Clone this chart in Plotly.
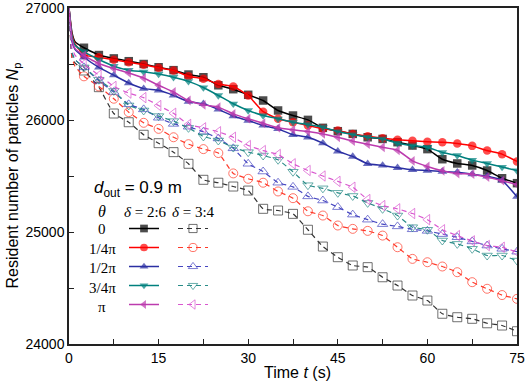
import plotly.graph_objects as go

# ---------------- data ----------------
t = [0, 0.5, 1, 2.5, 5, 7.5, 10, 12.5, 15, 17.5, 20, 22.5, 25, 27.5, 30, 32.5, 35,
     37.5, 40, 42.5, 45, 47.5, 50, 52.5, 55, 57.5, 60, 62.5, 65, 67.5, 70, 72.5, 75]

theta_labels = ["0", "1/4π", "1/2π", "3/4π", "π"]
x_ticks = [0, 15, 30, 45, 60, 75]
y_ticks = [24000, 25000, 26000, 27000]

# delta = 2:6 (solid)
s26_0 = [27000, 26780, 26700, 26645, 26580, 26550, 26525, 26500, 26471, 26445, 26406, 26382, 26310,
         26275, 26225, 26174, 26085, 26040, 26001, 25930, 25900, 25876, 25846,
         25831, 25802, 25772, 25740, 25650, 25612, 25594, 25549, 25480, 25436]
s26_q1 = [27000, 26760, 26680, 26580, 26561, 26538, 26516, 26493, 26466, 26442, 26391, 26368, 26322,
          26299, 26219, 26074, 26011, 25980, 25951, 25921, 25906, 25876, 25855,
          25837, 25823, 25814, 25806, 25802, 25790, 25769, 25727, 25695, 25630]
s26_q2 = [27000, 26700, 26630, 26560, 26470, 26400, 26330, 26280, 26265, 26220, 26165, 26145, 26095,
          26034, 25995, 25951, 25921, 25868, 25846, 25793, 25721, 25674, 25609,
          25594, 25573, 25555, 25549, 25540, 25534, 25516, 25497, 25460, 25315]
s26_q3 = [27000, 26750, 26670, 26610, 26540, 26480, 26445, 26430, 26410, 26382, 26345, 26290, 26219,
          26145, 26085, 26040, 26011, 25980, 25960, 25936, 25897, 25870, 25846,
          25832, 25793, 25772, 25757, 25710, 25683, 25642, 25612, 25580, 25549]
s26_pi = [27000, 26720, 26640, 26578, 26505, 26460, 26420, 26375, 26310, 26250, 26174, 26135, 26115,
          26055, 26011, 25971, 25930, 25912, 25897, 25876, 25846, 25811, 25784,
          25757, 25730, 25635, 25585, 25546, 25522, 25516, 25490, 25458, 25423]

# delta = 3:4 (dashed)
d34_0 = [27000, 26560, 26510, 26442, 26293, 26058, 25980, 25868, 25793, 25713, 25609, 25466, 25440,
         25406, 25370, 25207, 25192, 25162, 25020, 24870, 24775, 24701, 24686,
         24596, 24522, 24433, 24388, 24270, 24239, 24225, 24185, 24165, 24114]
d34_q1 = [27000, 26560, 26480, 26390, 26300, 26190, 26070, 25975, 25921, 25846, 25784, 25740, 25705,
          25523, 25475, 25440, 25362, 25302, 25185, 25147, 25058, 25028, 25010,
          24968, 24864, 24760, 24730, 24692, 24641, 24552, 24493, 24437, 24403]
d34_q2 = [27000, 26600, 26540, 26470, 26350, 26250, 26140, 26095, 26020, 25965, 25940, 25895, 25835,
          25747, 25609, 25540, 25440, 25403, 25318, 25281, 25222, 25155, 25110,
          25070, 25050, 25024, 25010, 24981, 24953, 24916, 24879, 24850, 24824]
d34_q3 = [27000, 26600, 26540, 26470, 26360, 26260, 26130, 26085, 26035, 25990, 25930, 25853, 25817,
          25754, 25713, 25683, 25645, 25538, 25418, 25390, 25350, 25322, 25260,
          25207, 25147, 25043, 25020, 24924, 24894, 24850, 24790, 24790, 24745]
d34_pi = [27000, 26640, 26580, 26500, 26400, 26300, 26240, 26200, 26129, 26060, 25960, 25930, 25895,
          25846, 25772, 25727, 25692, 25609, 25549, 25500, 25452, 25400, 25290,
          25236, 25207, 25165, 25110, 25020, 24968, 24921, 24879, 24864, 24820]

# ---------------- styles ----------------
colors = ["#000000", "#FF0000", "#2B2FA3", "#00807E", "#BC3BAE"]
dcolors = ["#333333", "#FF3A2A", "#4646C0", "#2A8C88", "#D957CF"]
sym_solid = ["square", "circle", "triangle-up", "triangle-down", "triangle-left"]
sym_open = ["square-open", "circle-open", "triangle-up-open", "triangle-down-open", "triangle-left-open"]
solid_series = [s26_0, s26_q1, s26_q2, s26_q3, s26_pi]
dashed_series = [d34_0, d34_q1, d34_q2, d34_q3, d34_pi]

n_lead = 3  # early points without markers

def sizes(sz):
    return [0] * n_lead + [sz] * (len(t) - n_lead)

fig = go.Figure()

for i, ys in enumerate(solid_series):
    fig.add_trace(go.Scatter(
        x=t, y=ys, mode="lines+markers", name=" ", legend="legend",
        line=dict(color=colors[i], width=1.5, shape="spline", smoothing=0.4),
        marker=dict(symbol=sym_solid[i], size=sizes(8.5), color=colors[i], line=dict(width=0)),
    ))

for i, ys in enumerate(dashed_series):
    fig.add_trace(go.Scatter(
        x=t, y=ys, mode="lines+markers", name=" ", legend="legend2",
        line=dict(color=dcolors[i], width=1.2, dash="5px,4px", shape="spline", smoothing=0.4),
        marker=dict(symbol=sym_open[i], size=sizes(9), color=dcolors[i],
                    line=dict(width=1, color=dcolors[i])),
    ))

def px_x(X):
    return (X - 69) / 448.0

def px_y(Y):
    return (344 - Y) / 336.0

serif = "Liberation Serif"
sans = "Liberation Sans"

annotations = [
    dict(text="<i>d</i><sub>out</sub> = 0.9 m", x=px_x(92), y=px_y(189), xanchor="left",
         yanchor="middle", font=dict(family=sans, size=17, color="black")),
    dict(text="<i>θ</i>", x=px_x(102), y=px_y(211.5), font=dict(family=serif, size=16, color="black")),
    dict(text="<i>δ</i> = 2:6", x=px_x(145), y=px_y(211.5), font=dict(family=serif, size=15, color="black")),
    dict(text="<i>δ</i> = 3:4", x=px_x(193), y=px_y(211.5), font=dict(family=serif, size=15, color="black")),
    # axis titles as paper annotations
    dict(text="Time <i>t</i> (s)", x=px_x(297), y=px_y(372), font=dict(family=sans, size=16, color="black")),
    dict(text="Resident number of particles <i>N</i><sub>p</sub>", x=px_x(13), y=px_y(175.5),
         textangle=-90, font=dict(family=sans, size=16, color="black")),
]
rows = [229.3, 249.3, 268.3, 287.7, 306.7]
for lab, Y in zip(theta_labels, rows):
    annotations.append(dict(text=lab, x=px_x(102), y=px_y(Y),
                            font=dict(family=serif, size=15, color="black")))
for a in annotations:
    a.update(xref="paper", yref="paper", showarrow=False)
    a.setdefault("xanchor", "center")
    a.setdefault("yanchor", "middle")

leg_common = dict(bgcolor="rgba(0,0,0,0)", borderwidth=0, font=dict(size=12, family=sans),
                  tracegroupgap=0, xanchor="left", yanchor="top", itemwidth=30)

fig.update_layout(
    width=526, height=385,
    margin=dict(l=69, r=9, t=8, b=41, autoexpand=False),
    paper_bgcolor="white", plot_bgcolor="white",
    font=dict(family=sans, color="black"),
    showlegend=True,
    legend=dict(x=px_x(124), y=px_y(214), **leg_common),
    legend2=dict(x=px_x(173), y=px_y(214), **leg_common),
    annotations=annotations,
    xaxis=dict(
        range=[0, 75], tickmode="array", tickvals=x_ticks, ticktext=[str(v) for v in x_ticks],
        ticks="inside", ticklen=5, tickwidth=1.2, tickcolor="#222",
        showline=True, linecolor="#222", linewidth=1.5, mirror=True,
        showgrid=False, zeroline=False, automargin=False, ticklabeloverflow="allow",
        tickfont=dict(family=sans, size=14, color="black"),
        minor=dict(tickvals=[7.5, 22.5, 37.5, 52.5, 67.5], ticks="inside", ticklen=5, tickwidth=1.2, tickcolor="#222"),
    ),
    yaxis=dict(
        range=[24000, 27000], tickmode="array", tickvals=y_ticks, ticktext=[str(v) for v in y_ticks],
        ticks="inside", ticklen=5, tickwidth=1.2, tickcolor="#222",
        showline=True, linecolor="#222", linewidth=1.5, mirror=True,
        showgrid=False, zeroline=False, automargin=False, ticklabeloverflow="allow",
        tickfont=dict(family=sans, size=14, color="black"),
        minor=dict(tickvals=[24500, 25500, 26500], ticks="inside", ticklen=5, tickwidth=1.2, tickcolor="#222"),
    ),
)

fig.write_html("out.html", config={"displayModeBar": False},
               post_script="document.body.style.margin='0';")
